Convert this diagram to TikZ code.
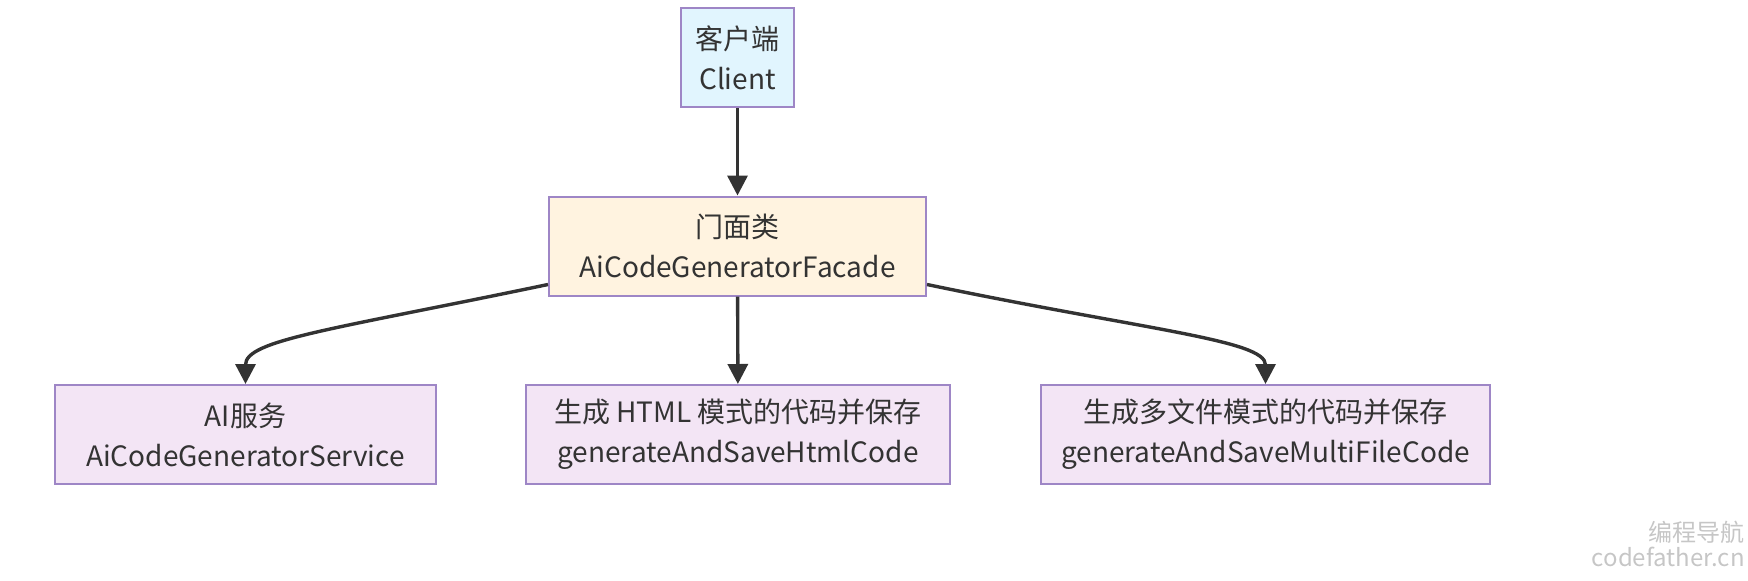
\documentclass[tikz,border=0pt]{standalone}
\usepackage{fontspec}
\setmainfont{Noto Sans CJK SC}
\usetikzlibrary{arrows.meta}
\definecolor{boxline}{HTML}{9E86C6}
\definecolor{ink}{HTML}{333333}
\definecolor{clientfill}{HTML}{E1F5FE}
\definecolor{facadefill}{HTML}{FFF3E0}
\definecolor{servfill}{HTML}{F3E5F5}

\begin{document}
\begin{tikzpicture}[x=0.5pt,y=0.5pt,
    box/.style={draw=boxline,line width=1pt,text=ink,align=center,inner sep=0pt,
      font=\fontsize{14}{20}\selectfont,minimum height=49.5pt},
    flow/.style={draw=ink,line width=1.7pt,-{Triangle[width=10pt,length=10pt]}},
    mark text/.style={text=gray!45,font=\fontsize{12}{14}\selectfont,anchor=east,inner sep=0pt}]
    \useasboundingbox (0,0) rectangle (1748,580);

    \node[box,fill=clientfill,minimum width=56.5pt] (client) at (737.5,522.5) {客户端\\Client};
    \node[box,fill=facadefill,minimum width=188.5pt] (facade) at (737.5,334) {门面类\\AiCodeGeneratorFacade};
    \node[box,fill=servfill,minimum width=190.5pt] (ai) at (245.5,145.5) {AI服务\\AiCodeGeneratorService};
    \node[box,fill=servfill,minimum width=212pt] (html) at (738,145.5) {生成 HTML 模式的代码并保存\\generateAndSaveHtmlCode};
    \node[box,fill=servfill,minimum width=224.5pt] (multi) at (1265.5,145.5) {生成多文件模式的代码并保存\\generateAndSaveMultiFileCode};

    \draw[flow] (client) -- (facade); \draw[flow] (facade) -- (html);
    \draw[flow] ([yshift=6pt]facade.south west) .. controls (330,250) and (245.5,240) .. (ai.north);
    \draw[flow] ([yshift=6pt]facade.south east) .. controls (1145,250) and (1265.5,240) .. (multi.north);

    \node[mark text] (markcn) at (1745,48) {编程导航};
    \node[mark text] (markurl) at (1745,23) {codefather.cn};
\end{tikzpicture}
\end{document}
